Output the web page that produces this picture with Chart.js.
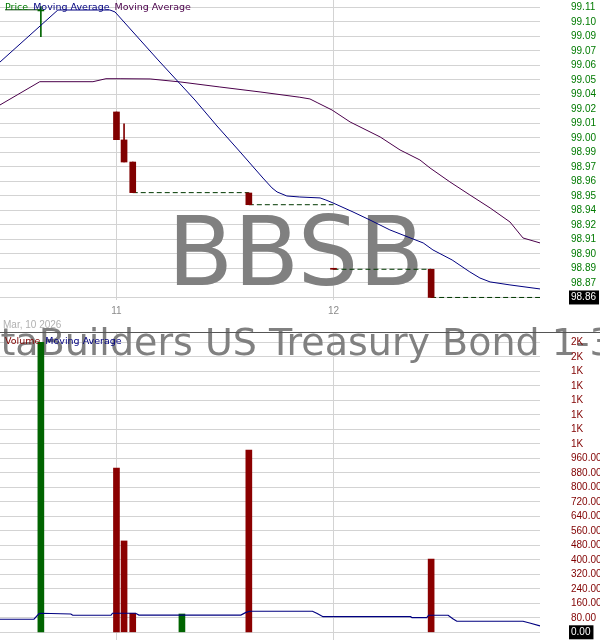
<!DOCTYPE html>
<html><head><meta charset="utf-8">
<script src="https://cdn.jsdelivr.net/npm/chart.js@4.4.1/dist/chart.umd.min.js"></script>
<style>
html,body{margin:0;padding:0;background:#fff;}
#wrap{position:relative;width:600px;height:640px;overflow:hidden;background:#fff;}
canvas{position:absolute;left:0;}
#price{top:0;}
#vol{top:320px;}
</style></head><body>
<div id="wrap"><canvas id="price" width="600" height="320"></canvas><canvas id="vol" width="600" height="320"></canvas></div>
<script>
// ---------- data ----------
const symbol = 'BBSB';
const fundName = 'BetaBuilders US Treasury Bond 1-3 Yr ETF';
const dateLabel = 'Mar, 10 2026';

// time = minutes after 10:00
const timeTicks = [60, 120];
const timeTickLabels = ['11', '12'];

const candleTimes = [39.1, 60.0, 62.1, 64.5, 96.6, 120.0, 147.0];
const candleOpen  = [99.1090, 99.0212, 98.9969, 98.9777, 98.9508, 98.8845, 98.8845];
const candleHigh  = [99.1127, 99.0212, 99.0108, 98.9777, 98.9508, 98.8845, 98.8845];
const candleLow   = [99.0866, 98.9971, 98.9777, 98.9511, 98.9406, 98.8845, 98.8600];
const candleClose = [99.1100, 98.9971, 98.9777, 98.9511, 98.9406, 98.8845, 98.8600];
const flatAfter   = [false, false, false, true, true, true, true];
const leadTime = 29.2;          // start of the price line before the first bar
const leadPrice = 99.1100;

const priceMaFastTimes  = [27.8, 43.8, 58.2, 59.6, 71.5, 81.7, 87.8, 94.2, 100.5, 103.0, 104.4, 107.1, 110.7, 116.3, 117.9, 119.9, 125.4, 130.1, 135.6, 142.0, 144.8, 147.5, 152.8, 157.7, 160.5, 163.3, 168.8, 177.1];
const priceMaFastValues = [99.0646, 99.1098, 99.1098, 99.1081, 99.0664, 99.0316, 99.0090, 98.9864, 98.9638, 98.9552, 98.9517, 98.9482, 98.9473, 98.9465, 98.9447, 98.9421, 98.9343, 98.9273, 98.9187, 98.9108, 98.9074, 98.9013, 98.8926, 98.8822, 98.8769, 98.8735, 98.8709, 98.8674];

const priceMaSlowTimes  = [27.8, 38.8, 53.5, 57.1, 61.0, 69.3, 77.6, 88.6, 99.7, 110.7, 113.5, 115.7, 119.6, 124.6, 132.9, 138.4, 143.9, 146.7, 152.2, 157.7, 163.3, 168.8, 172.4, 177.1];
const priceMaSlowValues = [99.0273, 99.0475, 99.0475, 99.0501, 99.0501, 99.0499, 99.0473, 99.0429, 99.0386, 99.0340, 99.0325, 99.0290, 99.0229, 99.0125, 98.9995, 98.9882, 98.9795, 98.9725, 98.9604, 98.9491, 98.9378, 98.9256, 98.9117, 98.9074];

const volTimes  = [39.1, 60.0, 62.1, 64.5, 78.1, 96.6, 147.0];
const volValues = [1600, 906, 504, 105, 101, 1006, 404];
const volUp     = [true, false, false, false, true, false, false];

const volMaTimes  = [27.8, 37.2, 38.6, 39.1, 47.4, 47.9, 58.5, 58.9, 65.3, 66.2, 94.4, 95.8, 96.9, 114.2, 115.5, 117.1, 141.3, 141.7, 145.8, 146.3, 151.7, 153.0, 154.1, 172.4, 174.5, 177.1];
const volMaValues = [72, 72, 103, 105, 101, 94, 94, 105, 105, 95, 95, 110, 116, 116, 104, 86, 86, 81, 81, 94, 94, 75, 61, 61, 50, 35];

const priceTickStart = 98.86, priceTickStep = 0.0126;
const priceTickLabels = ['98.86','98.87','98.89','98.90','98.91','98.92','98.94','98.95','98.96','98.97','98.99','99.00','99.01','99.02','99.04','99.05','99.06','99.07','99.09','99.10','99.11'];
const volTickStep = 80;
const volTickLabels = ['0.00','80.00','160.00','240.00','320.00','400.00','480.00','560.00','640.00','720.00','800.00','880.00','960.00','1K','1K','1K','1K','1K','1K','2K','2K'];

// axis ranges
const timeMin = 27.8, timeMax = 177.1;
const priceMin = 98.8578, priceMax = 99.1185;
const volMin = -42.5, volMax = 1656.8;

// ---------- styles ----------
const GRID = '#d3d3d3';
const UP = '#006400', DOWN = '#800000';
const VUP = '#006400', VDOWN = '#8b0000';
const NAVY = '#000080', PURPLE = '#4b004b';
const FLAT = '#003800';
const PRICE_LBL = '#007a00', VOL_LBL = '#800000';
const WM = '#808080';

Chart.defaults.font.family = "'Liberation Sans', Arial, sans-serif";
Chart.defaults.font.size = 10;
Chart.defaults.animation = false;

function fixAxis(w, h) {
  return function (scale) {
    if (w !== undefined) scale.width = w;
    if (h !== undefined) scale.height = h;
    scale.paddingTop = 0; scale.paddingBottom = 0;
    scale.paddingLeft = 0; scale.paddingRight = 0;
  };
}
const pts = (xs, ys) => xs.map((x, i) => ({x: x, y: ys[i]}));

// flat (no-trade) lines
const flatPoints = [];
candleTimes.forEach((t, i) => {
  if (!flatAfter[i]) return;
  const end = i + 1 < candleTimes.length ? candleTimes[i + 1] : timeMax;
  flatPoints.push({x: t, y: candleClose[i]}, {x: end, y: candleClose[i]}, {x: end, y: null});
});
const candleColor = candleTimes.map((t, i) => candleClose[i] > candleOpen[i] ? UP : DOWN);

const priceDecor = {
  id: 'priceDecor',
  beforeDatasetsDraw(chart) {
    const ctx = chart.ctx;
    ctx.save();
    ctx.font = "96px 'DejaVu Sans'";
    ctx.fillStyle = WM;
    ctx.textAlign = 'center';
    ctx.textBaseline = 'alphabetic';
    ctx.fillText(symbol, 296, 285);
    ctx.restore();
  },
  afterDatasetsDraw(chart) {
    const ctx = chart.ctx;
    ctx.save();
    ctx.font = "9.5px 'DejaVu Sans'";
    ctx.textBaseline = 'alphabetic';
    ctx.textAlign = 'left';
    let x = 5;
    const items = [['Price', PRICE_LBL], ['Moving Average', NAVY], ['Moving Average', PURPLE]];
    items.forEach(([txt, col]) => {
      ctx.fillStyle = col;
      ctx.fillText(txt, x, 10);
      x += ctx.measureText(txt).width + 5;
    });
    ctx.restore();
  }
};

new Chart(document.getElementById('price'), {
  type: 'line',
  data: {
    datasets: [
      {type: 'line', data: flatPoints, borderColor: FLAT, borderWidth: 1, borderDash: [5, 3],
       pointRadius: 0, spanGaps: false, order: 6},
      {type: 'line', data: [{x: leadTime, y: leadPrice}, {x: candleTimes[0], y: leadPrice}],
       borderColor: FLAT, borderWidth: 1, pointRadius: 0, order: 6},
      {type: 'bar', data: candleTimes.map((t, i) => ({x: t, y: [candleLow[i], candleHigh[i]]})),
       backgroundColor: candleColor, barThickness: 1, grouped: false, borderWidth: 0, order: 4},
      {type: 'bar', data: candleTimes.map((t, i) => ({x: t, y: [candleOpen[i], candleClose[i]]})),
       backgroundColor: candleColor, barThickness: 6, minBarLength: 1, grouped: false, borderWidth: 0, order: 3},
      {type: 'line', data: pts(priceMaFastTimes, priceMaFastValues), borderColor: NAVY, borderWidth: 1,
       pointRadius: 0, tension: 0, order: 1},
      {type: 'line', data: pts(priceMaSlowTimes, priceMaSlowValues), borderColor: PURPLE, borderWidth: 1,
       pointRadius: 0, tension: 0, order: 2}
    ]
  },
  options: {
    responsive: false, devicePixelRatio: 1, animation: false,
    layout: {padding: 0},
    plugins: {legend: {display: false}, tooltip: {enabled: false}},
    scales: {
      x: {
        type: 'linear', min: timeMin, max: timeMax, offset: false,
        afterBuildTicks: s => { s.ticks = timeTicks.map(v => ({value: v})); },
        afterFit: fixAxis(undefined, 20),
        grid: {color: GRID, drawTicks: false, offset: false},
        border: {display: false},
        ticks: {autoSkip: false, maxRotation: 0, padding: 5, color: '#8c8c8c',
                callback: (v, i) => timeTickLabels[i]}
      },
      y: {
        type: 'linear', position: 'right', min: priceMin, max: priceMax,
        afterBuildTicks: s => { s.ticks = priceTickLabels.map((_, i) => ({value: priceTickStart + i * priceTickStep})); },
        afterFit: fixAxis(60, undefined),
        grid: {color: GRID, drawTicks: false},
        border: {display: false},
        ticks: {autoSkip: false, padding: 31, z: 1,
                color: c => c.index === 0 ? '#ffffff' : PRICE_LBL,
                showLabelBackdrop: c => c.index === 0,
                backdropColor: c => c.index === 0 ? '#000000' : 'rgba(0,0,0,0)',
                backdropPadding: {left: 2, right: 3, top: 1, bottom: 1},
                callback: (v, i) => priceTickLabels[i]}
      }
    }
  },
  plugins: [priceDecor]
});

const volDecor = {
  id: 'volDecor',
  beforeDatasetsDraw(chart) {
    const ctx = chart.ctx;
    ctx.save();
    ctx.font = "38px 'DejaVu Sans'";
    ctx.fillStyle = WM;
    ctx.textAlign = 'left';
    ctx.textBaseline = 'alphabetic';
    ctx.fillText(fundName, -49, 35);
    ctx.font = "10px 'Liberation Sans'";
    ctx.fillStyle = '#b0b0b0';
    ctx.fillText(dateLabel, 3, 8);
    ctx.restore();
  },
  afterDatasetsDraw(chart) {
    const ctx = chart.ctx;
    ctx.save();
    ctx.strokeStyle = '#555555';
    ctx.lineWidth = 1;
    ctx.beginPath();
    ctx.moveTo(0, 12.5);
    ctx.lineTo(600, 12.5);
    ctx.stroke();
    ctx.font = "9.5px 'DejaVu Sans'";
    ctx.textBaseline = 'alphabetic';
    let x = 5;
    [['Volume', VOL_LBL], ['Moving Average', NAVY]].forEach(([txt, col]) => {
      ctx.fillStyle = col;
      ctx.fillText(txt, x, 24);
      x += ctx.measureText(txt).width + 5;
    });
    ctx.restore();
  }
};

new Chart(document.getElementById('vol'), {
  type: 'line',
  data: {
    datasets: [
      {type: 'bar', data: pts(volTimes, volValues), backgroundColor: volUp.map(u => u ? VUP : VDOWN),
       barThickness: 6, grouped: false, borderWidth: 0, order: 3},
      {type: 'line', data: pts(volMaTimes, volMaValues), borderColor: NAVY, borderWidth: 1.2,
       pointRadius: 0, tension: 0, order: 1}
    ]
  },
  options: {
    responsive: false, devicePixelRatio: 1, animation: false,
    layout: {padding: {top: 12, left: 0, right: 0, bottom: 0}},
    plugins: {legend: {display: false}, tooltip: {enabled: false}},
    scales: {
      x: {
        type: 'linear', min: timeMin, max: timeMax, offset: false,
        afterBuildTicks: s => { s.ticks = timeTicks.map(v => ({value: v})); },
        afterFit: fixAxis(undefined, 0),
        grid: {color: GRID, drawTicks: false, offset: false},
        border: {display: false},
        ticks: {display: false}
      },
      y: {
        type: 'linear', position: 'right', min: volMin, max: volMax,
        afterBuildTicks: s => { s.ticks = volTickLabels.map((_, i) => ({value: i * volTickStep})); },
        afterFit: fixAxis(60, undefined),
        grid: {color: GRID, drawTicks: false},
        border: {display: false},
        ticks: {autoSkip: false, padding: 31, z: 1,
                color: c => c.index === 0 ? '#ffffff' : VOL_LBL,
                showLabelBackdrop: c => c.index === 0,
                backdropColor: c => c.index === 0 ? '#000000' : 'rgba(0,0,0,0)',
                backdropPadding: {left: 2, right: 3, top: 1, bottom: 1},
                callback: (v, i) => volTickLabels[i]}
      }
    }
  },
  plugins: [volDecor]
});
</script>
</body></html>
